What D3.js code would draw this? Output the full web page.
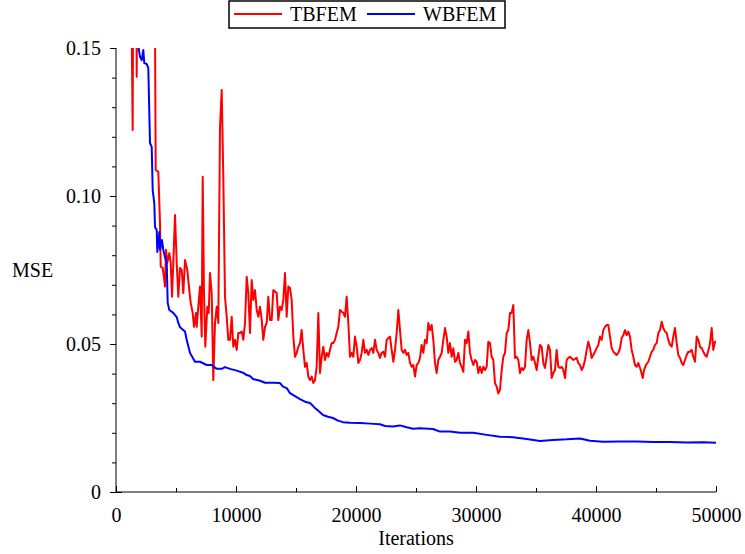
<!DOCTYPE html>
<html>
<head>
<meta charset="utf-8">
<script src="https://cdn.jsdelivr.net/npm/d3@7"></script>
<style>
  html, body { margin: 0; padding: 0; background: #fff; }
</style>
</head>
<body>
<svg id="chart" width="745" height="554"></svg>
<script>
// ---- data ----
const seriesNames = ["TBFEM", "WBFEM"];
const xTicks = [0, 10000, 20000, 30000, 40000, 50000];
const yTicks = [0, 0.05, 0.10, 0.15];
const yTickLabels = ["0", "0.05", "0.10", "0.15"];

// TBFEM: [iteration, MSE]  (values above 0.15 run off the top of the plot)
const tbfem = [
  [1200,0.2],[1390,0.1223],[1450,0.2],[1650,0.2],[1725,0.1403],[1800,0.2],[3200,0.2],
  [3308,0.1088],[3525,0.1082],[3667,0.0909],[3725,0.0761],[3892,0.0757],[4000,0.0723],
  [4083,0.0694],[4167,0.0818],[4275,0.0774],[4442,0.0807],[4558,0.0774],[4667,0.0660],
  [4775,0.0774],[4917,0.0936],[5058,0.0774],[5192,0.0660],[5333,0.0757],[5475,0.0750],
  [5608,0.0672],[5750,0.0784],[5942,0.0750],[6108,0.0682],[6225,0.0639],[6392,0.0605],
  [6500,0.0558],[6667,0.0605],[6725,0.0558],[6858,0.0626],[7000,0.0694],[7142,0.0525],
  [7225,0.1065],[7333,0.0672],[7442,0.0491],[7608,0.0626],[7725,0.0605],[7833,0.0740],
  [7975,0.0672],[8108,0.0378],[8250,0.0571],[8392,0.0626],[8525,0.0571],[8667,0.1234],
  [8808,0.1358],[8942,0.1065],[9083,0.0660],[9225,0.0592],[9358,0.0514],[9500,0.0514],
  [9642,0.0592],[9775,0.0491],[9917,0.0514],[10058,0.0480],[10192,0.0537],[10333,0.0537],
  [10475,0.0542],[10608,0.0514],[10750,0.0571],[10892,0.0727],[11025,0.0672],[11167,0.0537],
  [11308,0.0716],[11442,0.0649],[11583,0.0682],[11725,0.0615],[11858,0.0592],[12000,0.0626],
  [12142,0.0581],[12275,0.0514],[12417,0.0558],[12558,0.0571],[12692,0.0660],[12833,0.0581],
  [12975,0.0581],[13108,0.0682],[13392,0.0672],[13525,0.0581],[13667,0.0626],[13806,0.0615],
  [13944,0.0649],[14083,0.0740],[14222,0.0592],[14361,0.0694],[14500,0.0689],[14639,0.0649],
  [14778,0.0525],[14917,0.0457],[15056,0.0470],[15194,0.0491],[15333,0.0503],[15472,0.0547],
  [15611,0.0480],[15750,0.0423],[15889,0.0436],[16028,0.0390],[16167,0.0378],[16306,0.0390],
  [16444,0.0368],[16583,0.0378],[16722,0.0423],[16861,0.0605],[17000,0.0402],[17139,0.0457],
  [17278,0.0491],[17417,0.0446],[17556,0.0470],[17694,0.0457],[17833,0.0480],[17972,0.0503],
  [18111,0.0503],[18250,0.0514],[18389,0.0537],[18528,0.0558],[18667,0.0615],[18806,0.0609],
  [18944,0.0605],[19083,0.0592],[19222,0.0660],[19361,0.0571],[19500,0.0457],[19639,0.0470],
  [19778,0.0457],[19917,0.0525],[20056,0.0491],[20194,0.0436],[20333,0.0446],[20472,0.0470],
  [20611,0.0514],[20750,0.0470],[20889,0.0480],[21028,0.0463],[21167,0.0480],[21306,0.0486],
  [21444,0.0470],[21583,0.0514],[21722,0.0480],[21861,0.0470],[22000,0.0453],[22139,0.0470],
  [22278,0.0474],[22417,0.0457],[22556,0.0514],[22694,0.0520],[22833,0.0525],[22972,0.0480],
  [23111,0.0440],[23250,0.0480],[23389,0.0537],[23528,0.0615],[23667,0.0547],[23806,0.0480],
  [23944,0.0470],[24083,0.0480],[24222,0.0463],[24361,0.0470],[24500,0.0436],[24639,0.0423],
  [24778,0.0429],[24917,0.0390],[25056,0.0429],[25194,0.0436],[25333,0.0453],[25472,0.0497],
  [25611,0.0470],[25750,0.0514],[25889,0.0503],[26028,0.0571],[26167,0.0547],[26306,0.0564],
  [26444,0.0514],[26583,0.0436],[26722,0.0402],[26861,0.0446],[27000,0.0457],[27139,0.0470],
  [27278,0.0514],[27417,0.0554],[27556,0.0525],[27694,0.0470],[27833,0.0503],[27972,0.0457],
  [28111,0.0486],[28250,0.0440],[28389,0.0446],[28528,0.0470],[28667,0.0436],[28806,0.0423],
  [28944,0.0406],[29083,0.0514],[29222,0.0503],[29361,0.0542],[29500,0.0470],[29639,0.0446],
  [29778,0.0429],[29917,0.0446],[30056,0.0440],[30194,0.0402],[30333,0.0423],[30472,0.0402],
  [30611,0.0423],[30750,0.0412],[30889,0.0423],[31028,0.0508],[31167,0.0503],[31306,0.0457],
  [31444,0.0446],[31583,0.0368],[31722,0.0356],[31861,0.0333],[32000,0.0345],[32139,0.0412],
  [32278,0.0457],[32417,0.0470],[32556,0.0537],[32694,0.0547],[32833,0.0605],[32972,0.0605],
  [33111,0.0632],[33250,0.0453],[33389,0.0457],[33528,0.0446],[33667,0.0402],[33806,0.0419],
  [33944,0.0412],[34083,0.0423],[34222,0.0514],[34361,0.0547],[34500,0.0503],[34639,0.0446],
  [34778,0.0457],[34917,0.0436],[35056,0.0412],[35194,0.0457],[35333,0.0497],[35472,0.0491],
  [35611,0.0436],[35750,0.0419],[35889,0.0457],[36028,0.0497],[36167,0.0480],[36306,0.0385],
  [36444,0.0402],[36583,0.0412],[36722,0.0480],[36861,0.0423],[37000,0.0419],[37139,0.0423],
  [37278,0.0412],[37417,0.0385],[37556,0.0446],[37694,0.0453],[37833,0.0457],[38111,0.0446],
  [38389,0.0453],[38528,0.0436],[38667,0.0429],[38806,0.0412],[38944,0.0423],[39083,0.0446],
  [39222,0.0480],[39361,0.0508],[39500,0.0486],[39639,0.0453],[39778,0.0463],[39917,0.0474],
  [40056,0.0486],[40194,0.0497],[40333,0.0525],[40472,0.0514],[40611,0.0547],[40750,0.0558],
  [40889,0.0564],[41028,0.0564],[41167,0.0525],[41306,0.0486],[41444,0.0474],[41722,0.0463],
  [41861,0.0470],[42000,0.0486],[42139,0.0520],[42278,0.0530],[42417,0.0547],[42556,0.0530],
  [42694,0.0542],[42833,0.0525],[42972,0.0480],[43111,0.0457],[43250,0.0429],[43389,0.0423],
  [43528,0.0436],[43725,0.0412],[43892,0.0385],[44000,0.0412],[44167,0.0429],[44358,0.0440],
  [44500,0.0457],[44642,0.0474],[44775,0.0480],[44917,0.0497],[45058,0.0503],[45192,0.0537],
  [45333,0.0547],[45475,0.0575],[45608,0.0554],[45750,0.0542],[45892,0.0537],[46025,0.0514],
  [46167,0.0497],[46308,0.0491],[46442,0.0525],[46583,0.0554],[46725,0.0503],[46858,0.0463],
  [47000,0.0453],[47142,0.0436],[47275,0.0429],[47417,0.0446],[47558,0.0463],[47692,0.0474],
  [47833,0.0474],[47975,0.0480],[48108,0.0457],[48250,0.0440],[48392,0.0525],[48525,0.0514],
  [48667,0.0491],[48808,0.0486],[48942,0.0474],[49083,0.0463],[49225,0.0457],[49442,0.0491],
  [49500,0.0503],[49642,0.0554],[49775,0.0480],[49917,0.0508],[50000,0.0508]
];

// WBFEM: [iteration, MSE]
const wbfem = [
  [1583,0.17],[1808,0.152],[2000,0.1471],[2142,0.1459],[2275,0.1493],[2358,0.1449],
  [2558,0.1446],[2692,0.1432],[2833,0.1179],[2975,0.1166],[3058,0.1020],[3192,0.0976],
  [3250,0.0895],[3392,0.0885],[3442,0.0811],[3608,0.0878],[3667,0.0818],[3833,0.0851],
  [3942,0.0818],[4083,0.0794],[4225,0.0774],[4308,0.0639],[4442,0.0615],[4775,0.0605],
  [5058,0.0591],[5192,0.0571],[5333,0.0557],[5750,0.0542],[5892,0.0514],[6167,0.0470],
  [6583,0.0440],[7000,0.0440],[7558,0.0429],[7975,0.0429],[8392,0.0416],[8808,0.0416],
  [9083,0.0422],[9500,0.0416],[10058,0.0410],[10583,0.0403],[10892,0.0395],[11167,0.0392],
  [11417,0.0382],[12000,0.0376],[12417,0.0369],[13083,0.0369],[13667,0.0368],[13917,0.0356],
  [14225,0.0351],[14500,0.0334],[14917,0.0324],[15333,0.0314],[15750,0.0305],[16167,0.0301],
  [16583,0.0284],[16833,0.0275],[17250,0.0260],[17667,0.0254],[18083,0.0250],[18500,0.0241],
  [18917,0.0236],[19500,0.0234],[20333,0.0233],[21167,0.0231],[22000,0.0229],[22417,0.0223],
  [23083,0.0221],[23667,0.0225],[24225,0.0219],[24750,0.0214],[25333,0.0215],[26417,0.0213],
  [27000,0.0204],[27833,0.0204],[28667,0.0200],[29750,0.0200],[30892,0.0193],[32000,0.0187],
  [33083,0.0185],[34225,0.0179],[35333,0.0172],[36417,0.0176],[37558,0.0178],[38667,0.0181],
  [39500,0.0173],[40583,0.0170],[42000,0.0171],[43392,0.0171],[44750,0.0169],[46167,0.0169],
  [47558,0.0167],[48917,0.0168],[50000,0.0166]
];

// ---- drawing ----
const FONT = '"Liberation Serif", "Times New Roman", Times, "DejaVu Serif", serif';
const svg = d3.select("#chart").attr("font-family", FONT);
const pLeft = 116, pRight = 716, pTop = 48, pBottom = 492;
const x = d3.scaleLinear().domain([0, 50000]).range([pLeft, pRight]);
const y = d3.scaleLinear().domain([0, 0.15]).range([pBottom, pTop]);

svg.append("rect").attr("width", 745).attr("height", 554).attr("fill", "#fff");

svg.append("defs").append("clipPath").attr("id", "plotclip")
  .append("rect").attr("x", pLeft).attr("y", pTop).attr("width", pRight - pLeft + 2).attr("height", pBottom - pTop);

const line = d3.line().x(d => x(d[0])).y(d => y(d[1]));
const g = svg.append("g").attr("clip-path", "url(#plotclip)");
g.append("path").datum(tbfem).attr("d", line).attr("fill", "none")
  .attr("stroke", "#ff0000").attr("stroke-width", 2).attr("stroke-linejoin", "round");
g.append("path").datum(wbfem).attr("d", line).attr("fill", "none")
  .attr("stroke", "#0000ff").attr("stroke-width", 2).attr("stroke-linejoin", "round");

// y axis (ticks outward)
const yMinor = [0.01, 0.02, 0.03, 0.04, 0.06, 0.07, 0.08, 0.09, 0.11, 0.12, 0.13, 0.14];
const yAxis = d3.axisLeft(y).tickValues(yTicks).tickSize(6).tickPadding(9)
  .tickFormat((d, i) => yTickLabels[i]);
const ya = svg.append("g").attr("transform", `translate(${pLeft},0)`).call(yAxis);
ya.selectAll(".tick").filter(d => d === 0).select("line").attr("x2", 6).attr("x1", -6);
svg.append("g").attr("transform", `translate(${pLeft},0)`)
  .call(d3.axisLeft(y).tickValues(yMinor).tickSize(4).tickFormat(""))
  .select(".domain").remove();

// x axis (ticks inward)
const xMinor = [5000, 15000, 25000, 35000, 45000];
const xAxis = d3.axisBottom(x).tickValues(xTicks).tickSize(-6).tickPadding(16)
  .tickFormat(d3.format("d"));
const xa = svg.append("g").attr("transform", `translate(0,${pBottom})`).call(xAxis);
svg.append("g").attr("transform", `translate(0,${pBottom})`)
  .call(d3.axisBottom(x).tickValues(xMinor).tickSize(-4).tickFormat(""))
  .select(".domain").remove();

svg.selectAll("g").attr("font-family", FONT);
svg.selectAll(".tick text").attr("font-family", FONT).attr("font-size", 20).attr("fill", "#000");
svg.selectAll(".domain, .tick line").attr("stroke", "#000").attr("stroke-width", 1);
ya.select(".domain").attr("d", `M0,${pTop}V${pBottom}`);
xa.select(".domain").attr("d", `M${pLeft},0H${pRight}`);

// axis titles
svg.append("text").attr("x", 416).attr("y", 545).attr("text-anchor", "middle")
  .attr("font-family", FONT).attr("font-size", 20).text("Iterations");
svg.append("text").attr("x", 12).attr("y", 277).attr("text-anchor", "start")
  .attr("font-family", FONT).attr("font-size", 20).text("MSE");

// legend
const colors = ["#ff0000", "#0000ff"];
const lg = svg.append("g");
lg.append("rect").attr("x", 229).attr("y", 1).attr("width", 276).attr("height", 27)
  .attr("fill", "#fff").attr("stroke", "#000").attr("stroke-width", 1.5);
const lx = [234, 367];
seriesNames.forEach((n, i) => {
  lg.append("line").attr("x1", lx[i]).attr("x2", lx[i] + 48).attr("y1", 14).attr("y2", 14)
    .attr("stroke", colors[i]).attr("stroke-width", 2);
  lg.append("text").attr("x", lx[i] + 56).attr("y", 21).attr("font-family", FONT)
    .attr("font-size", 20).text(n);
});
</script>
</body>
</html>
